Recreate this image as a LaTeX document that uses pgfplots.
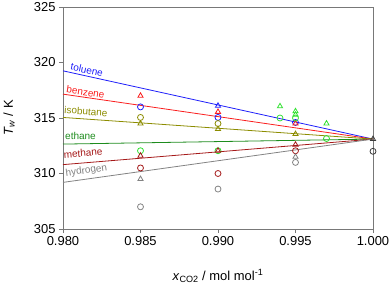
\documentclass[border=0pt]{standalone}
\usepackage{pgfplots}
\pgfplotsset{compat=1.18}
\usepackage{fontspec}
\setmainfont{Liberation Sans}
\definecolor{cTol}{RGB}{30,30,250}
\definecolor{cBen}{RGB}{250,30,30}
\definecolor{cIso}{RGB}{140,140,0}
\definecolor{cEthL}{RGB}{30,140,30}
\definecolor{cEthM}{RGB}{50,225,50}
\definecolor{cMet}{RGB}{165,25,25}
\definecolor{cHyd}{RGB}{130,130,130}
\definecolor{cCO}{RGB}{60,60,60}
\definecolor{cAx}{RGB}{120,120,120}
\begin{document}
\begin{tikzpicture}
\begin{axis}[
  scale only axis, width=310bp, height=222bp,
  xmin=0.98, xmax=1.0, ymin=305, ymax=325,
  xtick={0.98,0.985,0.99,0.995,1.0},
  xticklabels={0.980,0.985,0.990,0.995,1.000},
  ytick={305,310,315,320,325},
  /pgf/number format/assume math mode=true,
  tick align=outside, xtick pos=bottom, ytick pos=left,
  major tick length=4bp,
  axis line style={cAx, line width=1pt},
  every tick/.style={cAx, line width=0.8pt},
  tick label style={font=\fontsize{13}{13}\selectfont},
  label style={font=\fontsize{13}{13}\selectfont},
  xlabel={\textit{x}\textsubscript{CO2} / mol mol\textsuperscript{-1}},
  ylabel={\textit{T}\textsubscript{\textit{w}} / K},
  xlabel style={at={(axis description cs:0.5,-0.212)}, anchor=center},
  ylabel style={at={(axis description cs:-0.174,0.5)}, anchor=center},
  clip=false,
  mark size=3bp,
  every axis plot/.append style={line width=0.8pt},
]
% correlation lines
\addplot[cTol, mark=none] coordinates {(0.98,319.25) (1.0,313.1)};
\addplot[cBen, mark=none] coordinates {(0.98,317.15) (1.0,313.1)};
\addplot[cIso, mark=none] coordinates {(0.98,315.05) (1.0,313.1)};
\addplot[cEthL, mark=none] coordinates {(0.98,312.65) (1.0,313.1)};
\addplot[cMet, mark=none] coordinates {(0.98,310.8) (1.0,313.1)};
\addplot[cHyd, mark=none] coordinates {(0.98,309.2) (1.0,313.1)};
% toluene
\addplot[cTol, only marks, mark=o] coordinates {(0.985,316.0) (0.990,315.05) (0.995,314.6)};
\addplot[cTol, only marks, mark=triangle] coordinates {(0.990,316.1)};
% benzene
\addplot[cBen, only marks, mark=triangle] coordinates {(0.985,317.0) (0.990,315.55) (0.995,314.5)};
% isobutane
\addplot[cIso, only marks, mark=o] coordinates {(0.985,315.05) (0.990,314.5)};
\addplot[cIso, only marks, mark=triangle] coordinates {(0.985,314.5) (0.990,314.0) (0.995,313.55)};
% ethane
\addplot[cEthM, only marks, mark=o] coordinates {(0.985,312.05) (0.990,312.05) (0.994,315.0) (0.995,315.0) (0.997,313.15)};
\addplot[cEthM, only marks, mark=triangle] coordinates {(0.994,316.05) (0.995,315.6) (0.995,315.3) (0.997,314.5)};
% methane
\addplot[cMet, only marks, mark=triangle] coordinates {(0.985,311.6) (0.990,312.05) (0.995,312.6)};
\addplot[cMet, only marks, mark=o] coordinates {(0.985,310.5) (0.990,310.0) (0.995,312.05)};
% hydrogen
\addplot[cHyd, only marks, mark=triangle] coordinates {(0.985,309.5) (0.995,311.5)};
\addplot[cHyd, only marks, mark=o] coordinates {(0.985,307.0) (0.990,308.6) (0.995,311.0)};
% pure CO2
\addplot[cCO, only marks, mark=triangle] coordinates {(1.0,313.1)};
\addplot[cCO, only marks, mark=o] coordinates {(1.0,312.0)};
% labels
\begin{scope}[every node/.style={font=\fontsize{10}{10}\selectfont, anchor=base west, inner sep=0pt}]
\node[cTol, rotate=-12.4] at (axis cs:0.98045,319.35) {toluene};
\node[cBen, rotate=-8.3] at (axis cs:0.98019,317.26) {benzene};
\node[cIso, rotate=-4.0] at (axis cs:0.98006,315.41) {isobutane};
\node[cEthL, rotate=-0.9] at (axis cs:0.98013,313.06) {ethane};
\node[cMet, rotate=4.7] at (axis cs:0.98006,311.38) {methane};
\node[cHyd, rotate=8.0] at (axis cs:0.98019,309.74) {hydrogen};
\end{scope}
\end{axis}
\pgfresetboundingbox
\path[use as bounding box] (-63bp,-57bp) rectangle (329bp,229bp);
\end{tikzpicture}
\end{document}
